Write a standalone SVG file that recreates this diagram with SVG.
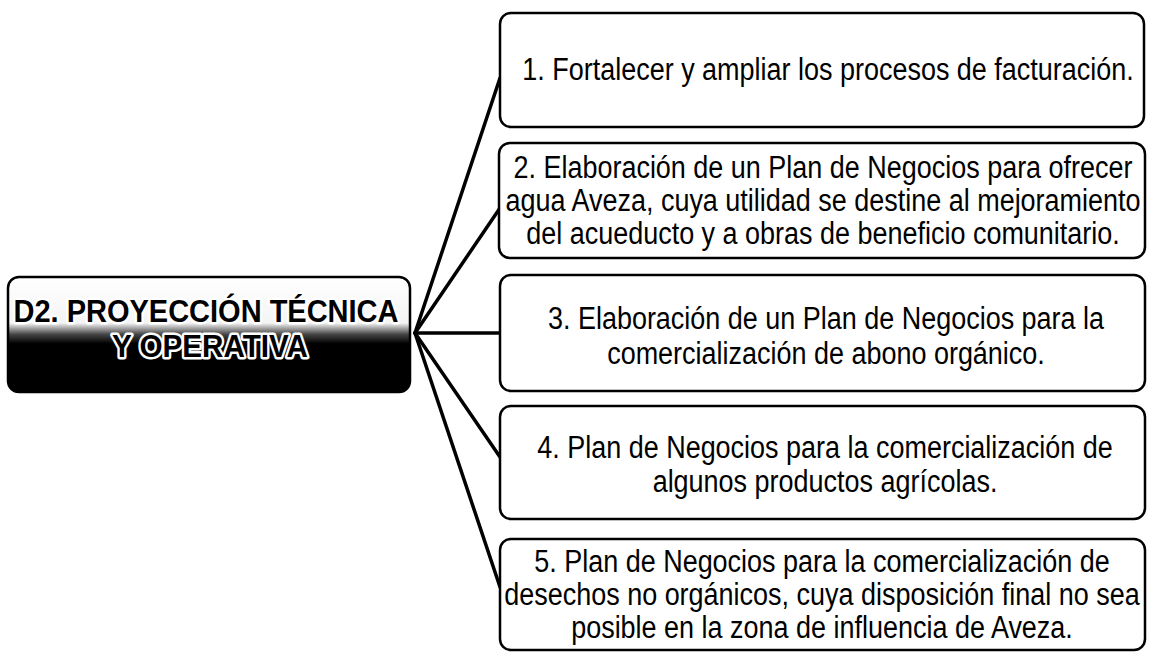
<svg xmlns="http://www.w3.org/2000/svg" width="1149" height="652" viewBox="0 0 1149 652">
<style>
.box{fill:#fff;stroke:#000;stroke-width:2.5}
.t{font-family:"Liberation Sans",Arial,sans-serif;font-size:31px;fill:#000;text-anchor:middle}
.hd{font-family:"Liberation Sans",Arial,sans-serif;font-weight:bold;font-size:31px;fill:#000;stroke:#fff;stroke-width:5;stroke-linejoin:round;paint-order:stroke;text-anchor:middle}
.con{stroke:#000;stroke-width:3.5;fill:none;stroke-linecap:round}
</style>
<defs>
<linearGradient id="g" x1="0" y1="0" x2="0" y2="1">
<stop offset="0" stop-color="#fff"/>
<stop offset="0.4" stop-color="#f4f4f4"/>
<stop offset="0.5" stop-color="#444"/>
<stop offset="0.58" stop-color="#000"/>
<stop offset="1" stop-color="#000"/>
</linearGradient>
</defs>
<rect width="1149" height="652" fill="#fff"/>
<g id="connectors">
<line class="con" x1="415" y1="333" x2="500" y2="78"/>
<line class="con" x1="415" y1="333" x2="500" y2="208"/>
<line class="con" x1="415" y1="333" x2="500" y2="333"/>
<line class="con" x1="415" y1="333" x2="500" y2="457"/>
<line class="con" x1="415" y1="333" x2="500" y2="587"/>
</g>
<g id="root">
<rect x="8" y="277" width="402" height="115" rx="11" fill="url(#g)" stroke="#000" stroke-width="2.5"/>
<text class="hd" x="206" y="322" textLength="385" lengthAdjust="spacingAndGlyphs">D2. PROYECCIÓN TÉCNICA</text>
<text class="hd" x="210" y="357" textLength="196" lengthAdjust="spacingAndGlyphs">Y OPERATIVA</text>
</g>
<g id="n1">
<rect class="box" x="500" y="13" width="644" height="114" rx="11"/>
<g transform="translate(828,0) scale(0.87,1)">
<text class="t" x="0" y="80">1. Fortalecer y ampliar los procesos de facturación.</text>
</g>
</g>
<g id="n2">
<rect class="box" x="499" y="143" width="646" height="115" rx="11"/>
<g transform="translate(823,0) scale(0.87,1)">
<text class="t" x="0" y="178">2. Elaboración  de un Plan de Negocios para ofrecer</text>
<text class="t" x="0" y="211">agua Aveza, cuya utilidad se destine al mejoramiento</text>
<text class="t" x="0" y="244">del acueducto y a obras de beneficio comunitario.</text>
</g>
</g>
<g id="n3">
<rect class="box" x="500" y="275" width="645" height="116" rx="11"/>
<g transform="translate(826,0) scale(0.87,1)">
<text class="t" x="0" y="329">3. Elaboración de un Plan de Negocios para la</text>
<text class="t" x="0" y="364">comercialización de abono orgánico.</text>
</g>
</g>
<g id="n4">
<rect class="box" x="500" y="406" width="645" height="113" rx="11"/>
<g transform="translate(825,0) scale(0.87,1)">
<text class="t" x="0" y="458">4. Plan de Negocios para la comercialización de</text>
<text class="t" x="0" y="492">algunos productos agrícolas.</text>
</g>
</g>
<g id="n5">
<rect class="box" x="500" y="539" width="645" height="111" rx="11"/>
<g transform="translate(822,0) scale(0.87,1)">
<text class="t" x="0" y="572">5. Plan de Negocios para la comercialización de</text>
<text class="t" x="0" y="605">desechos no orgánicos, cuya disposición final no sea</text>
<text class="t" x="0" y="638">posible en la zona de influencia de Aveza.</text>
</g>
</g>
</svg>
